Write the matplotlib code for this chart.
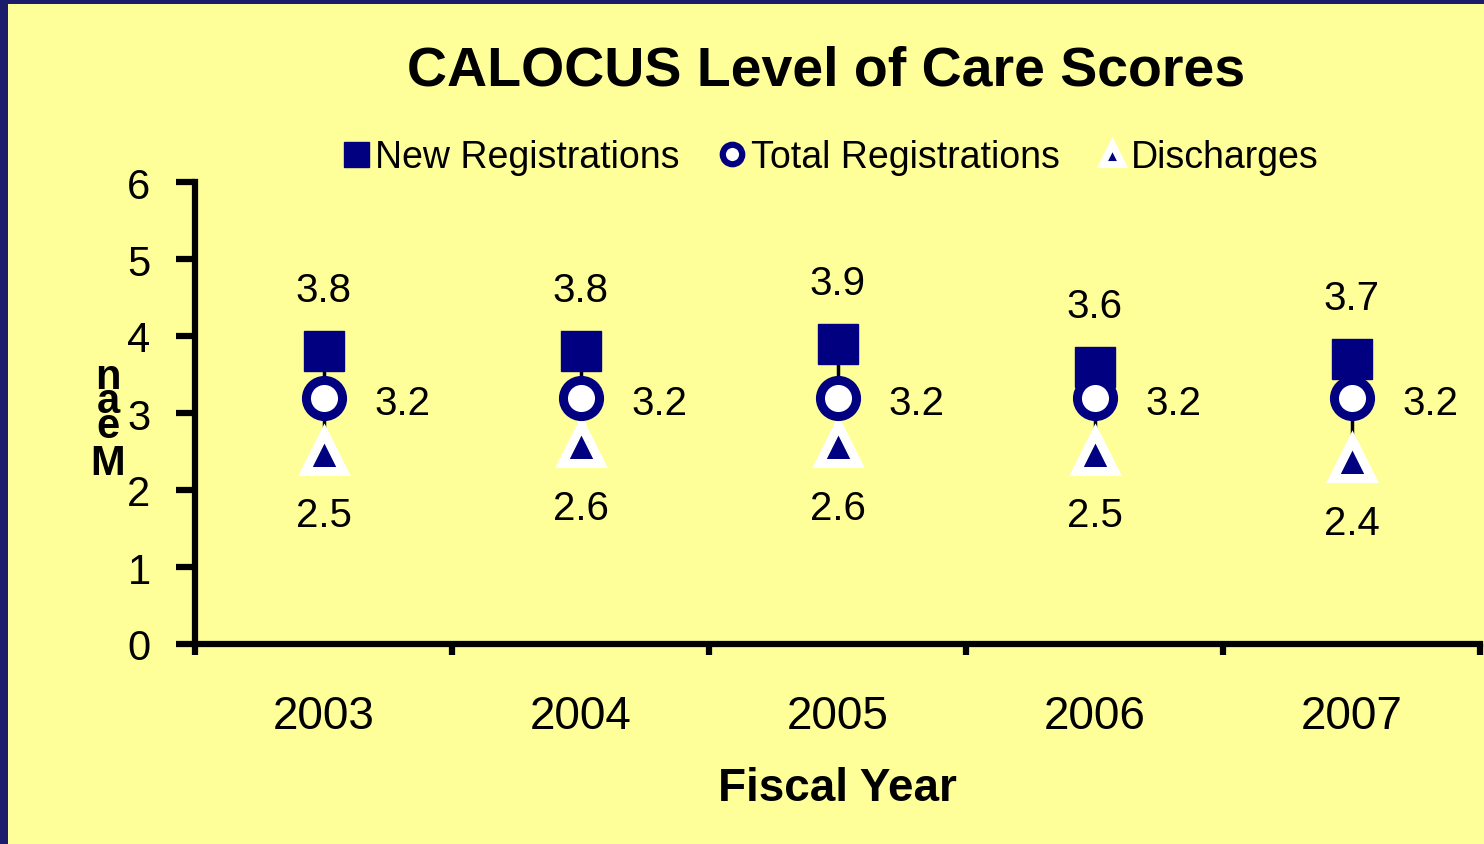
import numpy as np
import matplotlib.pyplot as plt
from matplotlib.patches import Rectangle
from matplotlib.lines import Line2D

plt.rcParams['font.family'] = ['Liberation Sans', 'DejaVu Sans']

years = ['2003', '2004', '2005', '2006', '2007']
new_reg = [3.8, 3.8, 3.9, 3.6, 3.7]
total_reg = [3.2, 3.2, 3.2, 3.2, 3.2]
discharges = [2.5, 2.6, 2.6, 2.5, 2.4]

navy = '#000080'
bg = '#FFFF99'

fig = plt.figure(figsize=(14.84, 8.45), dpi=100)
fig.patch.set_facecolor('#1c1c6c')
fig.patches.append(Rectangle((8 / 1484, 0), 1, 1 - 5 / 845, transform=fig.transFigure,
                             facecolor=bg, edgecolor='none', zorder=-5))

ax = fig.add_axes([195 / 1484, 1 - 645 / 845, 1285 / 1484, (645 - 183) / 845])
ax.set_zorder(2)
ax.set_facecolor('none')
x = np.arange(len(years))

# hi-lo lines
ax.vlines(x, discharges, new_reg, color='black', lw=2.5, zorder=1)

ax.plot(x, new_reg, ls='none', marker='s', ms=29.5, color=navy, zorder=3)
ax.plot(x, discharges, ls='none', marker='^', ms=27, mfc=navy, mec='white', mew=6.5, zorder=2)
ax.plot(x, total_reg, ls='none', marker='o', ms=26, mfc='white', mec=navy, mew=6.5, zorder=4)

for i in range(len(years)):
    ax.annotate(f'{new_reg[i]:.1f}', (x[i], new_reg[i]), xytext=(0, 44), textcoords='offset points',
                ha='center', va='center', fontsize=29)
    ax.annotate(f'{total_reg[i]:.1f}', (x[i], total_reg[i]), xytext=(57, -4), textcoords='offset points',
                ha='center', va='center', fontsize=29)
    ax.annotate(f'{discharges[i]:.1f}', (x[i], discharges[i]), xytext=(0, -46), textcoords='offset points',
                ha='center', va='center', fontsize=29)

ax.set_xlim(-0.5, 4.5)
ax.set_ylim(0, 6)
ax.set_yticks(range(7))
ax.set_yticklabels([str(v) for v in range(7)], fontsize=30)
ax.set_xticks(np.arange(-0.5, 5, 1))
ax.set_xticklabels([])
ax.set_xticks(x, minor=True)
ax.set_xticklabels(years, minor=True, fontsize=33)
ax.tick_params(axis='x', which='minor', length=0, pad=36)
ax.tick_params(axis='x', which='major', length=8, width=4.5, direction='out')
ax.tick_params(axis='y', length=14, width=4.5, direction='out', pad=18)
for s in ['top', 'right']:
    ax.spines[s].set_visible(False)
for s in ['left', 'bottom']:
    ax.spines[s].set_linewidth(4.5)

ax.set_xlabel('Fiscal Year', fontsize=33, fontweight='bold', labelpad=20)

# y label drawn as stacked letters like the original
for ch, yy in zip(['n', 'a', 'e', 'M'], [378, 402, 427, 464]):
    fig.text(108 / 1484, 1 - yy / 845, ch, ha='center', va='center', fontsize=30, fontweight='bold')

fig.text(826 / 1484, 1 - 72 / 845, 'CALOCUS Level of Care Scores', ha='center', va='center',
         fontsize=40, fontweight='bold')

handles = [
    Line2D([], [], ls='none', marker='s', ms=18, color=navy),
    Line2D([], [], ls='none', marker='o', ms=14, mfc='white', mec=navy, mew=4.5),
    Line2D([], [], ls='none', marker='^', ms=15, mfc=navy, mec='white', mew=5),
]
fig.legend(handles, ['New Registrations', 'Total Registrations', 'Discharges'],
           loc='center', bbox_to_anchor=(830 / 1484, 1 - 158 / 845), ncol=3, frameon=False,
           fontsize=27, handlelength=0.8, handletextpad=0.1, columnspacing=1.0)

fig.savefig('out.png', dpi=100, facecolor=fig.get_facecolor())
